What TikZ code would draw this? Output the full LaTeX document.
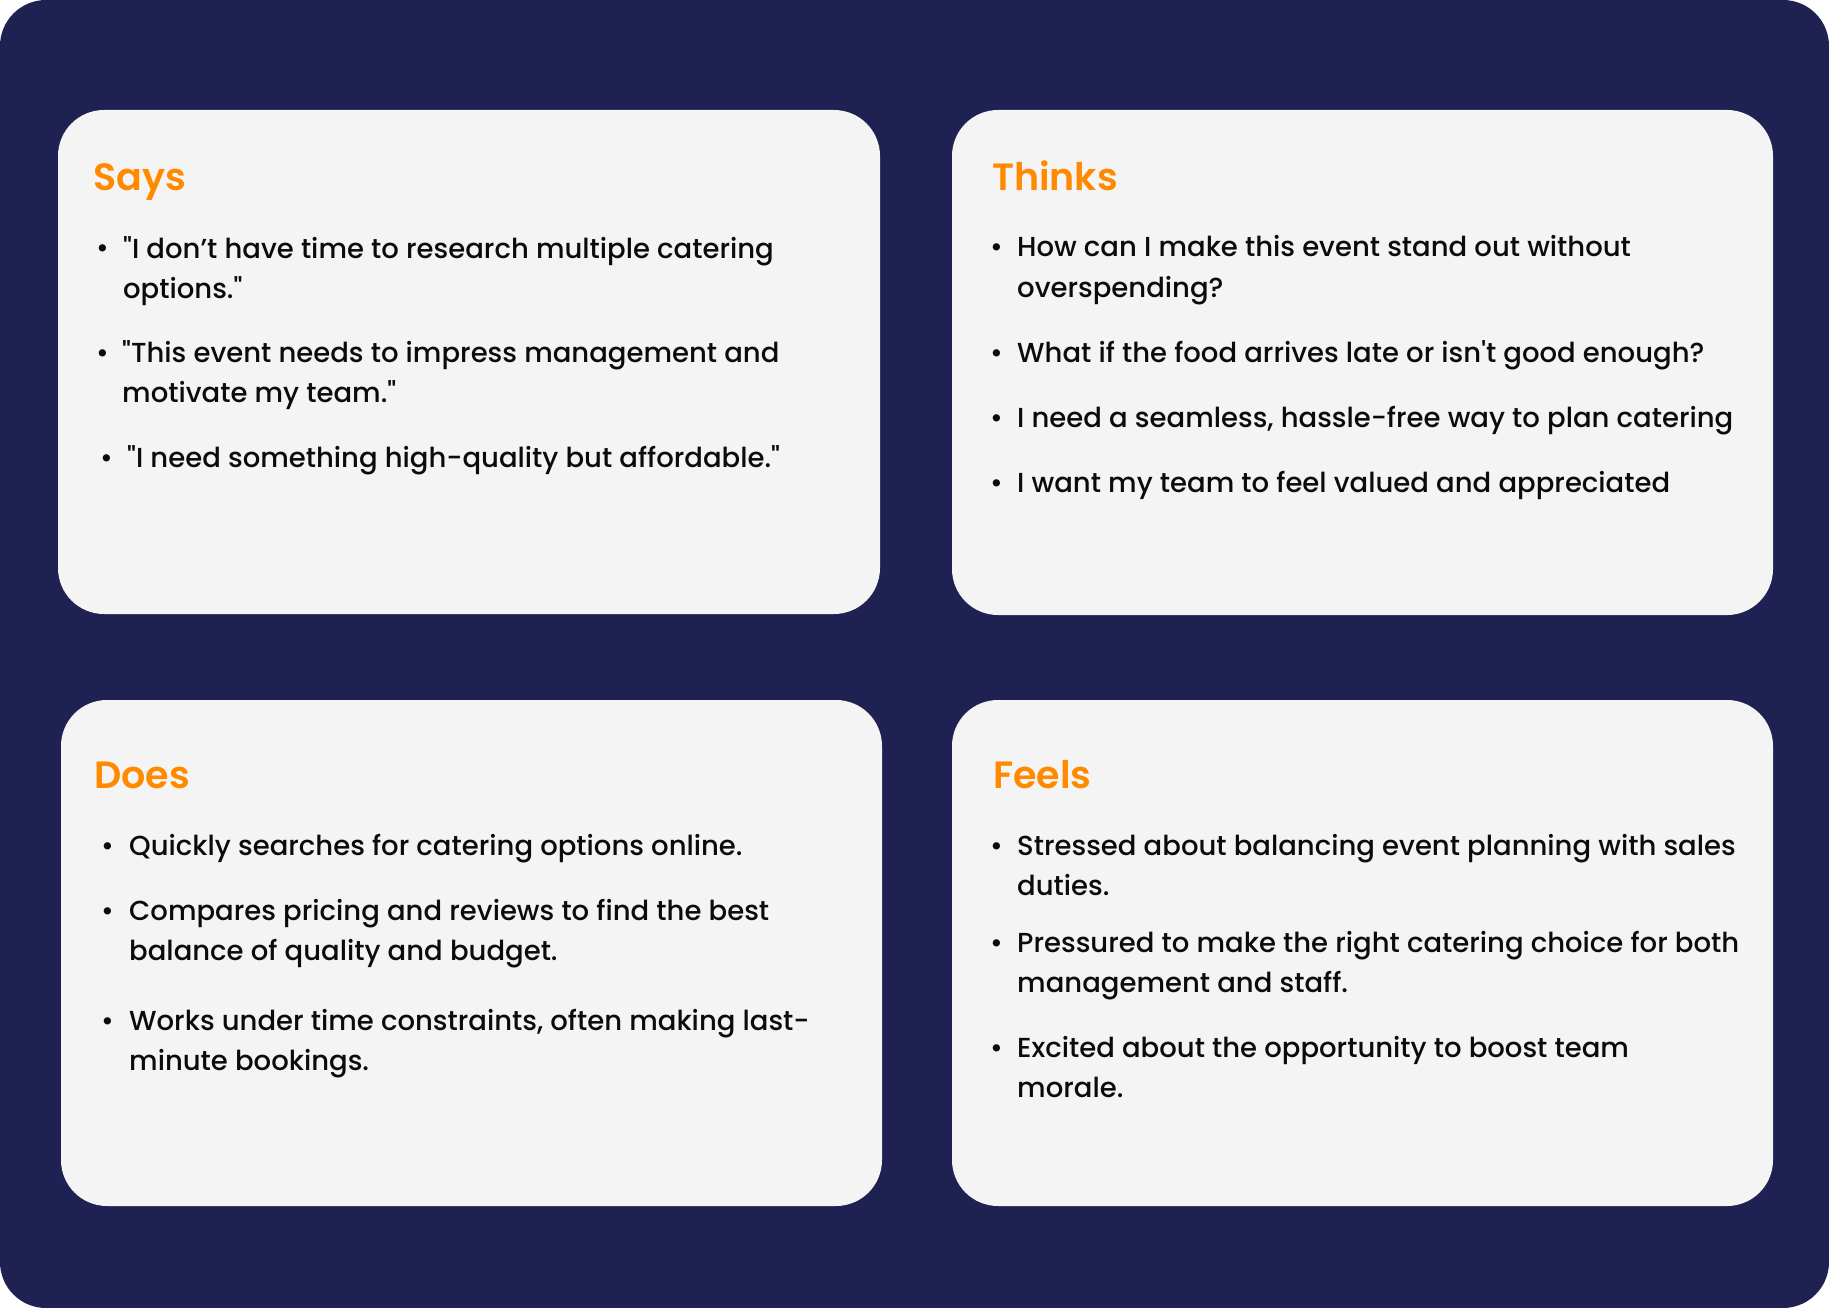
\documentclass[tikz,border=0pt]{standalone}
\usepackage{fontspec}
\newfontfamily\bodyfont{Poppins Medium}
\newfontfamily\headfont{Poppins SemiBold}
\definecolor{navy}{HTML}{1E2152}
\definecolor{cardgray}{HTML}{F4F4F4}
\definecolor{headorange}{HTML}{FF8A00}
\definecolor{inkblack}{HTML}{0B0B0B}

\begin{document}
\begin{tikzpicture}[x=1pt,y=-1pt,
  card/.style={fill=cardgray,rounded corners=46pt},
  heading/.style={anchor=base west,inner sep=0pt,text=headorange,
    font=\headfont\fontsize{38}{44}\selectfont},
  item/.style={anchor=base west,inner sep=0pt,align=left,text=inkblack,
    font=\bodyfont\fontsize{27.5}{40.5}\selectfont},
  dot/.style={anchor=base west,inner sep=0pt,text=inkblack,
    font=\bodyfont\fontsize{27.5}{40.5}\selectfont}]

\useasboundingbox (0,0) rectangle (1829,1308);
\fill[navy,rounded corners=46pt] (0,0) rectangle (1829,1308);

% Four quadrant cards.
\fill[card] (58,110) rectangle (880,614);
\fill[card] (952,110) rectangle (1773,615);
\fill[card] (61,700) rectangle (882,1206);
\fill[card] (952,700) rectangle (1773,1206);

% Says (first baseline, lines; a multi-line node sits on its last line)
\node[heading] (says) at (93,191) {Says};
\foreach \bx/\tx/\yy/\n/\txt [count=\i] in {
  96/123/258/2/{"I don’t have time to research multiple catering\\options."},
  96/122/362/2/{"This event needs to impress management and\\motivate my team."},
  100/127/467/1/{"I need something high-quality but affordable."}}
{
  \node[dot] (says dot \i) at (\bx,\yy) {•};
  \node[item] (says item \i) at (\tx,{\yy+(\n-1)*40.5}) {\txt};
}

% Thinks
\node[heading] (thinks) at (992,191) {Thinks};
\foreach \yy/\n/\txt [count=\i] in {
  257/2/{How can I make this event stand out without\\overspending?},
  362/1/{What if the food arrives late or isn't good enough?},
  427/1/{I need a seamless, hassle-free way to plan catering},
  492/1/{I want my team to feel valued and appreciated}}
{
  \node[dot] (thinks dot \i) at (990,\yy) {•};
  \node[item] (thinks item \i) at (1017,{\yy+(\n-1)*40.5}) {\txt};
}

% Does
\node[heading] (does) at (94,788) {Does};
\foreach \yy/\n/\txt [count=\i] in {
  855/1/{Quickly searches for catering options online.},
  920/2/{Compares pricing and reviews to find the best\\balance of quality and budget.},
  1030/2/{Works under time constraints, often making last-\\minute bookings.}}
{
  \node[dot] (does dot \i) at (101,\yy) {•};
  \node[item] (does item \i) at (129,{\yy+(\n-1)*40.5}) {\txt};
}

% Feels
\node[heading] (feels) at (993,788) {Feels};
\foreach \yy/\n/\txt [count=\i] in {
  855/2/{Stressed about balancing event planning with sales\\duties.},
  952/2/{Pressured to make the right catering choice for both\\management and staff.},
  1057/2/{Excited about the opportunity to boost team\\morale.}}
{
  \node[dot] (feels dot \i) at (990,\yy) {•};
  \node[item] (feels item \i) at (1017,{\yy+(\n-1)*40.5}) {\txt};
}
\end{tikzpicture}
\end{document}
